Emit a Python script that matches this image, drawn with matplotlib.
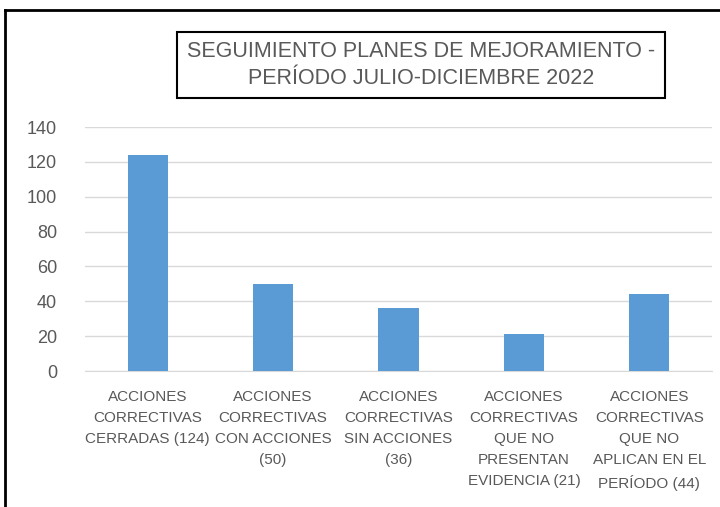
import matplotlib.pyplot as plt
from matplotlib.font_manager import fontManager

names = {f.name for f in fontManager.ttflist}
fam = ['Liberation Sans Narrow'] if 'Liberation Sans Narrow' in names else ['Liberation Sans']
plt.rcParams['font.family'] = fam + ['DejaVu Sans']

categorias = [
    "ACCIONES\nCORRECTIVAS\nCERRADAS (124)",
    "ACCIONES\nCORRECTIVAS\nCON ACCIONES\n(50)",
    "ACCIONES\nCORRECTIVAS\nSIN ACCIONES\n(36)",
    "ACCIONES\nCORRECTIVAS\nQUE NO\nPRESENTAN\nEVIDENCIA (21)",
    "ACCIONES\nCORRECTIVAS\nQUE NO\nAPLICAN EN EL\nPERÍODO (44)",
]
valores = [124, 50, 36, 21, 44]
titulo = "SEGUIMIENTO PLANES DE MEJORAMIENTO -\nPERÍODO JULIO-DICIEMBRE 2022"

gris = "#595959"

fig = plt.figure(figsize=(7.2, 5.07), dpi=100)
ax = fig.add_axes([85/720, 1 - 371/507, (712-85)/720, (371-127)/507])

x = range(len(valores))
ax.bar(x, valores, width=0.32, color="#5B9BD5", zorder=3)
ax.set_xlim(-0.5, len(valores) - 0.5)
ax.set_ylim(0, 140)
ax.set_yticks(range(0, 141, 20))
ax.grid(axis="y", color="#D9D9D9", linewidth=1, zorder=0)
for s in ["top", "right", "left"]:
    ax.spines[s].set_visible(False)
ax.spines["bottom"].set_color("#D9D9D9")
ax.tick_params(axis="both", length=0, colors=gris)
ax.tick_params(axis="y", labelsize=13, pad=20)
ax.set_xticks(list(x))
ax.set_xticklabels(categorias, fontsize=11, linespacing=1.62, color=gris)
ax.tick_params(axis="x", pad=14)

fig.text(421/720, 1 - 65/507, titulo, ha="center", va="center", fontsize=15.5,
         color=gris, linespacing=1.35,
         bbox=dict(boxstyle="square,pad=0.45", facecolor="white", edgecolor="black", linewidth=1.5))

# marco exterior (solo izquierda y arriba visibles)
fig.add_artist(plt.Line2D([5/720, 5/720], [0, 1 - 10/507], color="black", linewidth=2))
fig.add_artist(plt.Line2D([5/720, 1], [1 - 10/507, 1 - 10/507], color="black", linewidth=2))

fig.savefig("out.png", dpi=100)
